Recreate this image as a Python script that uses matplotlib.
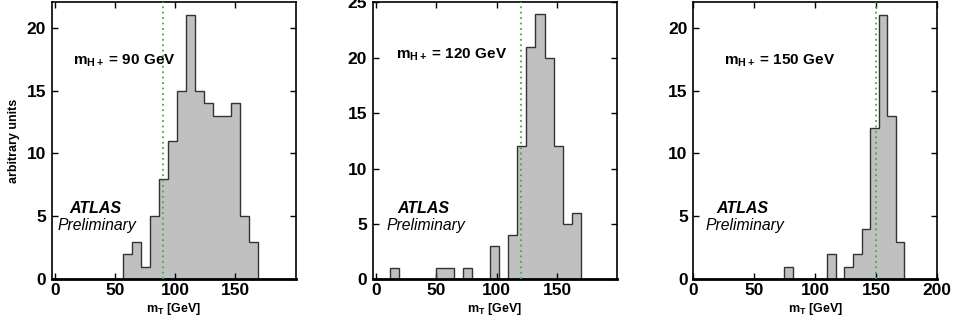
import matplotlib
matplotlib.use("Agg")
import matplotlib.pyplot as plt

plt.rcParams['font.family'] = ['Liberation Sans', 'DejaVu Sans']
plt.rcParams['mathtext.fontset'] = 'custom'
plt.rcParams['mathtext.rm'] = 'Liberation Sans'
plt.rcParams['mathtext.bf'] = 'Liberation Sans:bold'
plt.rcParams['mathtext.it'] = 'Liberation Sans:italic'

# ---- data ----
masses = [90, 120, 150]
mass_labels = ["90", "120", "150"]

edges_90 = [57, 64.5, 72, 79.5, 87, 94.5, 102, 109.5, 117, 124.5, 132, 139.5,
            147, 154.5, 162, 169.5]
counts_90 = [2, 3, 1, 5, 8, 11, 15, 21, 15, 14, 13, 13, 14, 5, 3]

edges_120 = [12, 19.5, 27, 34.5, 42, 49.5, 57, 64.5, 72, 79.5, 87, 94.5, 102,
             109.5, 117, 124.5, 132, 139.5, 147, 154.5, 162, 169.5]
counts_120 = [1, 0, 0, 0, 0, 1, 1, 0, 1, 0, 0, 3, 0, 4, 12, 21, 24, 20, 12, 5, 6]

edges_150 = [74.6, 81.6, 88.7, 95.7, 102.7, 109.8, 116.8, 123.8, 130.8, 137.9,
             144.9, 151.9, 159.0, 166.0, 173.0]
counts_150 = [1, 0, 0, 0, 0, 2, 0, 1, 2, 4, 12, 21, 13, 3]

xticks_12 = [0, 50, 100, 150]
xticks_3 = [0, 50, 100, 150, 200]
yticks_22 = [0, 5, 10, 15, 20]
yticks_25 = [0, 5, 10, 15, 20, 25]

panels = [
    dict(edges=edges_90, counts=counts_90, mass=masses[0], mlab=mass_labels[0],
         xlim=(-2.8, 200.6), ylim=(0, 22), xticks=xticks_12, yticks=yticks_22,
         ann=(0.087, 0.79), atlas=(0.177, 0.254), prel=(0.186, 0.196)),
    dict(edges=edges_120, counts=counts_120, mass=masses[1], mlab=mass_labels[1],
         xlim=(-2.5, 199.1), ylim=(0, 25), xticks=xticks_12, yticks=yticks_25,
         ann=(0.095, 0.81), atlas=(0.206, 0.254), prel=(0.218, 0.196)),
    dict(edges=edges_150, counts=counts_150, mass=masses[2], mlab=mass_labels[2],
         xlim=(0, 200), ylim=(0, 22), xticks=xticks_3, yticks=yticks_22,
         ann=(0.126, 0.79), atlas=(0.200, 0.254), prel=(0.213, 0.196)),
]

fig = plt.figure(figsize=(9.54, 3.31), dpi=100)
lefts = [51.7 / 954, 372.7 / 954, 693.3 / 954]
W = 244 / 954
B = 51.7 / 331
H = 276.8 / 331

for i, p in enumerate(panels):
    ax = fig.add_axes([lefts[i], B, W, H])
    ax.stairs(p['counts'], p['edges'], fill=True, color='#c0c0c0', zorder=1)
    ax.stairs(p['counts'], p['edges'], fill=False, color='#333333',
              linewidth=1.0, zorder=2)
    ax.axvline(p['mass'], color='#44aa44', linestyle=(0, (1.0, 2.0)),
               linewidth=1.3, zorder=3)
    ax.set_xlim(*p['xlim'])
    ax.set_ylim(*p['ylim'])
    ax.set_xticks(p['xticks'])
    ax.set_yticks(p['yticks'])
    ax.tick_params(direction='in', length=4, width=1, top=True, right=True,
                   labelsize=12.5, pad=3)
    ax.tick_params(axis='y', pad=4)
    for lab in ax.get_xticklabels() + ax.get_yticklabels():
        lab.set_fontweight('bold')
    for s in ax.spines.values():
        s.set_linewidth(1.2)
    ax.spines['bottom'].set_linewidth(2.0)
    ax.set_xlabel(r'$\mathbf{m_T}$ [GeV]', fontsize=9, fontweight='bold',
                  labelpad=2)
    if i == 0:
        ax.set_ylabel('arbitrary units', fontsize=9, fontweight='bold',
                      labelpad=5)
    ax.text(p['ann'][0], p['ann'][1],
            r'$\mathbf{m_{H+}}$ = ' + p['mlab'] + ' GeV',
            transform=ax.transAxes, fontsize=11, fontweight='bold',
            ha='left', va='center')
    ax.text(p['atlas'][0], p['atlas'][1], 'ATLAS', transform=ax.transAxes,
            fontsize=11.5, fontweight='bold', fontstyle='italic',
            ha='center', va='center')
    ax.text(p['prel'][0], p['prel'][1], 'Preliminary', transform=ax.transAxes,
            fontsize=11.3, fontstyle='italic', ha='center', va='center')

fig.savefig('out.png', dpi=100)
